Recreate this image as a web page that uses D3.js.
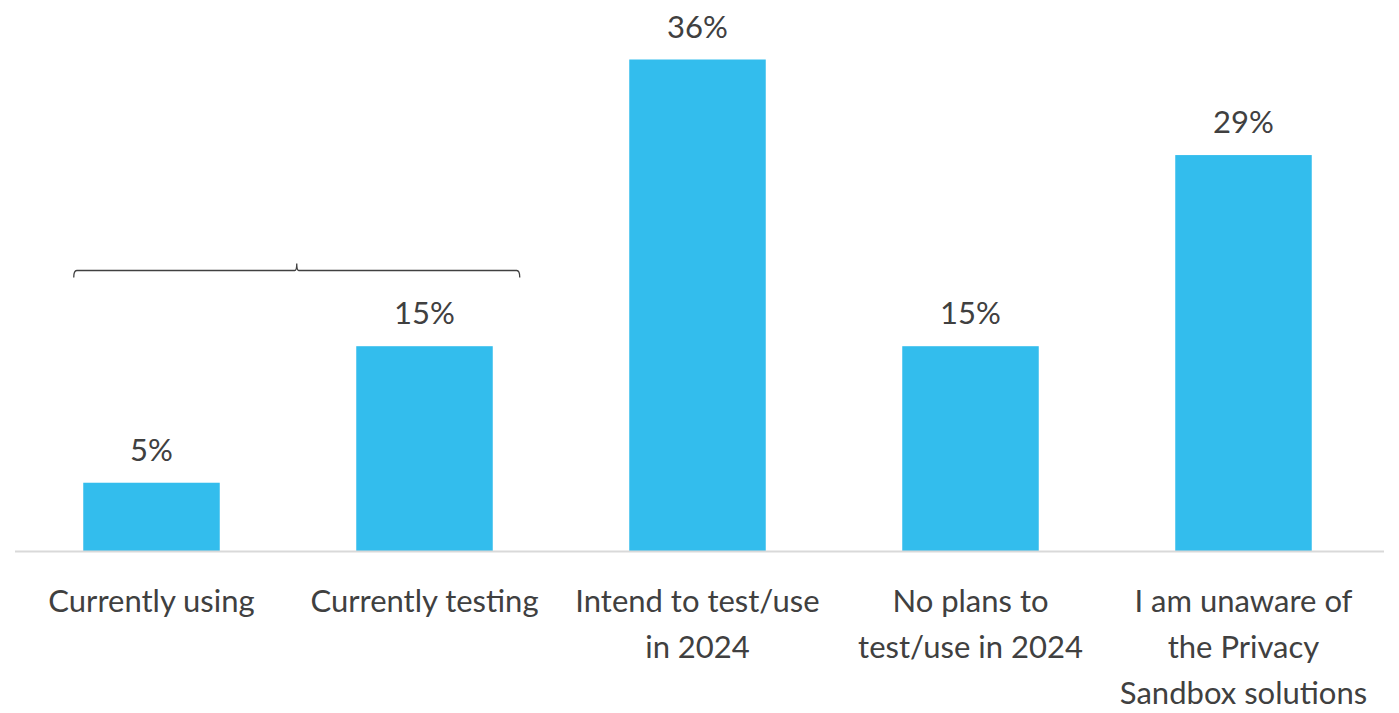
<!DOCTYPE html>
<html>
<head>
<meta charset="utf-8">
<script src="https://cdn.jsdelivr.net/npm/d3@7"></script>
<style>
  html, body { margin: 0; padding: 0; background: #ffffff; }
  svg { display: block; }
  text { font-family: "Lato", "Open Sans", sans-serif; fill: #404040; }
</style>
</head>
<body>
<svg id="chart" width="1399" height="713"></svg>
<script>
// Survey responses: status of Privacy Sandbox adoption
const categories = [
  ["Currently using"],
  ["Currently testing"],
  ["Intend to test/use", "in 2024"],
  ["No plans to", "test/use in 2024"],
  ["I am unaware of", "the Privacy", "Sandbox solutions"]
];
const values = [5, 15, 36, 15, 29];
const valueLabels = ["5%", "15%", "36%", "15%", "29%"];

const svg = d3.select("#chart");
const baseY = 551;
const topY = 59.5;

const x = d3.scaleBand()
  .domain(d3.range(categories.length))
  .range([15, 1380])
  .paddingInner(0.5)
  .paddingOuter(0.25);

const y = d3.scaleLinear()
  .domain([0, 36])
  .range([baseY, topY]);

// Bars
svg.append("g")
  .selectAll("rect")
  .data(values)
  .join("rect")
  .attr("x", (d, i) => x(i))
  .attr("y", d => y(d))
  .attr("width", x.bandwidth())
  .attr("height", d => baseY - y(d))
  .attr("fill", "#33bded");

// Baseline
svg.append("line")
  .attr("x1", 15).attr("x2", 1384)
  .attr("y1", baseY + 0.5).attr("y2", baseY + 0.5)
  .attr("stroke", "#d9d9d9")
  .attr("stroke-width", 2);

// Value labels
svg.append("g")
  .selectAll("text")
  .data(values)
  .join("text")
  .attr("x", (d, i) => x(i) + x.bandwidth() / 2)
  .attr("y", d => y(d) - 22)
  .attr("text-anchor", "middle")
  .attr("font-size", 31)
  .text((d, i) => valueLabels[i]);

// Category labels
const lab = svg.append("g")
  .selectAll("text")
  .data(categories)
  .join("text")
  .attr("text-anchor", "middle")
  .attr("font-size", 31);
lab.selectAll("tspan")
  .data((d, i) => d.map(line => ({ line, i })))
  .join("tspan")
  .attr("x", d => x(d.i) + x.bandwidth() / 2)
  .attr("y", (d, j) => 612 + j * 46)
  .text(d => d.line);

// Bracket grouping the first two categories
const bx1 = x(0) - 9.5, bx2 = x(1) + x.bandwidth() + 27;
const by = 270.5;
const bmid = (bx1 + bx2) / 2;
svg.append("path")
  .attr("d", `M${bx1},${by + 7} Q${bx1},${by} ${bx1 + 3},${by} L${bmid - 2},${by} Q${bmid},${by} ${bmid},${by - 7} Q${bmid},${by} ${bmid + 2},${by} L${bx2 - 3},${by} Q${bx2},${by} ${bx2},${by + 7}`)
  .attr("fill", "none")
  .attr("stroke", "#404040")
  .attr("stroke-width", 1.3);
</script>
</body>
</html>
